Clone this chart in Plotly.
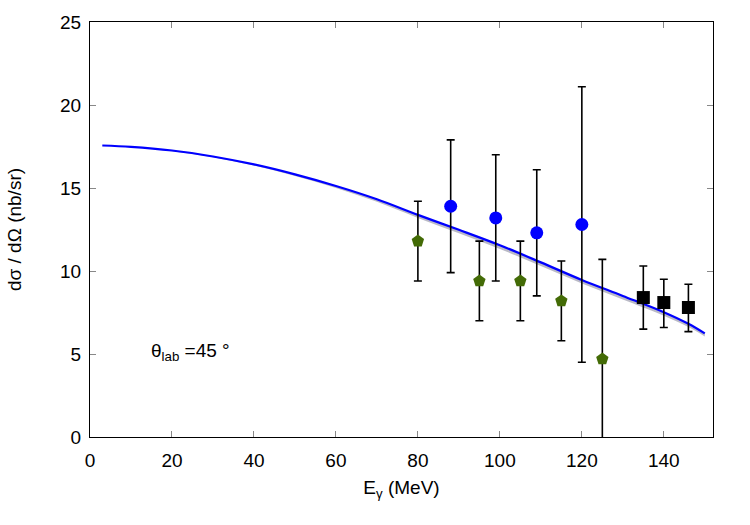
import plotly.graph_objects as go

# Theory curve
curve_x = [3, 10, 20, 30, 40, 50, 60, 70, 80, 90, 100, 110, 120, 130, 140, 146, 150]
curve_y = [17.56, 17.48, 17.26, 16.90, 16.42, 15.82, 15.12, 14.32, 13.38, 12.48, 11.55, 10.52, 9.46, 8.50, 7.52, 6.82, 6.24]
band_lo = [17.54, 17.45, 17.22, 16.85, 16.35, 15.72, 15.0, 14.17, 13.2, 12.28, 11.33, 10.3, 9.24, 8.28, 7.3, 6.62, 6.06]

# Data set 1 (green pentagons)
g_x = [80, 95, 105, 115, 125]
g_y = [11.8, 9.4, 9.4, 8.2, 4.7]
g_up = [2.4, 2.4, 2.4, 2.4, 6.0]
g_dn = [2.4, 2.4, 2.4, 2.4, 6.0]

# Data set 2 (blue circles)
b_x = [88, 99, 109, 120]
b_y = [13.9, 13.2, 12.3, 12.8]
b_up = [4.0, 3.8, 3.8, 8.3]
b_dn = [4.0, 3.8, 3.8, 8.3]

# Data set 3 (black squares)
k_x = [135, 140, 146]
k_y = [8.4, 8.1, 7.8]
k_up = [1.9, 1.4, 1.4]
k_dn = [1.9, 1.5, 1.45]

x_ticks = [0, 20, 40, 60, 80, 100, 120, 140]
y_ticks = [0, 5, 10, 15, 20, 25]

FONT = "Liberation Sans, Arial, sans-serif"

fig = go.Figure()

fig.add_trace(go.Scatter(x=curve_x, y=band_lo, mode="lines", line=dict(color="rgba(0,0,0,0)", shape="spline"),
                         showlegend=False, hoverinfo="skip"))
fig.add_trace(go.Scatter(x=curve_x, y=curve_y, mode="lines", fill="tonexty", fillcolor="rgba(140,140,160,0.6)",
                         line=dict(color="rgba(0,0,0,0)", shape="spline"), showlegend=False, hoverinfo="skip"))
fig.add_trace(go.Scatter(x=curve_x, y=curve_y, mode="lines", line=dict(color="#0000ff", width=2.2, shape="spline"),
                         showlegend=False))

errstyle = dict(type="data", symmetric=False, color="black", thickness=1.6, width=4)

fig.add_trace(go.Scatter(x=g_x, y=g_y, mode="markers",
                         marker=dict(symbol="pentagon", size=13, color="#436b06"),
                         error_y=dict(array=g_up, arrayminus=g_dn, **errstyle), showlegend=False))
fig.add_trace(go.Scatter(x=b_x, y=b_y, mode="markers",
                         marker=dict(symbol="circle", size=13, color="#0000ff"),
                         error_y=dict(array=b_up, arrayminus=b_dn, **errstyle), showlegend=False))
fig.add_trace(go.Scatter(x=k_x, y=k_y, mode="markers",
                         marker=dict(symbol="square", size=13, color="black"),
                         error_y=dict(array=k_up, arrayminus=k_dn, **errstyle), showlegend=False))

axis_common = dict(showline=True, linecolor="black", linewidth=1.2, mirror="ticks", ticks="inside",
                   ticklen=6, tickcolor="#888888", showgrid=False, zeroline=False,
                   tickfont=dict(family=FONT, size=19, color="black"))

fig.update_xaxes(range=[0, 152], tickvals=x_ticks, ticklabelstandoff=6,
                 title=dict(text="E<sub>γ</sub> (MeV)", font=dict(family=FONT, size=19, color="black"), standoff=10),
                 **axis_common)
fig.update_yaxes(range=[0, 25], tickvals=y_ticks, ticklabelstandoff=4,
                 title=dict(text="dσ / dΩ (nb/sr)", font=dict(family=FONT, size=19, color="black"), standoff=33),
                 **axis_common)

fig.add_annotation(x=14.5, y=5.1, xref="x", yref="y", xanchor="left", yanchor="middle",
                   text="θ<sub>lab</sub> =45 °", showarrow=False,
                   font=dict(family=FONT, size=19, color="black"))

fig.update_layout(width=750, height=525, margin=dict(l=90, r=37, t=20, b=88),
                  plot_bgcolor="white", paper_bgcolor="white")

fig.write_html("out.html")
